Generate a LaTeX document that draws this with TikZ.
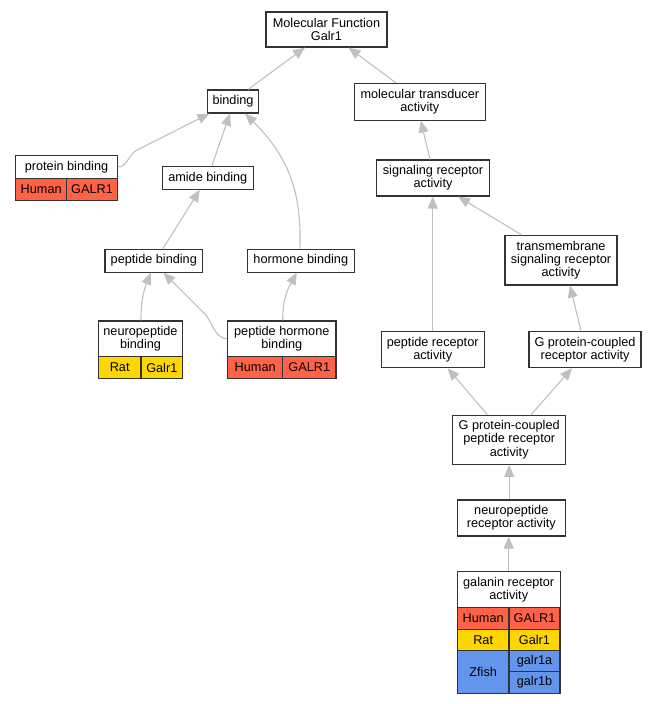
\documentclass[tikz,border=0pt]{standalone}
\usepackage{fontspec}
\setmainfont{Liberation Sans}
\usetikzlibrary{arrows.meta}
\definecolor{humanc}{HTML}{FF6347}
\definecolor{ratc}{HTML}{FFD700}
\definecolor{fishc}{HTML}{6495ED}
\definecolor{edgec}{HTML}{C0C0C0}
\newcommand\fsz{\fontsize{12.7}{13.2}\selectfont}
\tikzset{
  gobox/.style={draw=black!80, line width=1.1pt, fill=white, inner sep=0pt, align=center, font=\fsz},
  cell/.style={draw=black!80, line width=1.1pt, inner sep=0pt, align=center, font=\fsz},
  edge/.style={draw=edgec, line width=1.1pt, -{Triangle[length=12pt,width=10pt]}},
}
\begin{document}
\begin{tikzpicture}[x=1pt,y=-1pt]
\useasboundingbox (0,0) rectangle (657,704);
% plain boxes
\node[gobox, minimum width=121pt, minimum height=35pt] (mf) at (326.5,29.5) {Molecular Function\\Galr1};
\node[gobox, minimum width=50.6pt, minimum height=23pt] (bind) at (233,101.5) {binding};
\node[gobox, minimum width=131pt, minimum height=36.7pt] (mta) at (419.8,101.7) {molecular transducer\\activity};
\node[gobox, minimum width=91pt, minimum height=22.6pt] (amide) at (207.8,178) {amide binding};
\node[gobox, minimum width=112.6pt, minimum height=36pt] (sra) at (433,178) {signaling receptor\\activity};
\node[gobox, minimum width=97.7pt, minimum height=22.7pt] (pepb) at (153.8,260.7) {peptide binding};
\node[gobox, minimum width=107pt, minimum height=22.7pt] (hb) at (300.8,260.7) {hormone binding};
\node[gobox, minimum width=112pt, minimum height=49.3pt] (tsra) at (561,260.3) {transmembrane\\signaling receptor\\activity};
\node[gobox, minimum width=103.3pt, minimum height=36pt] (pra) at (432.7,349.7) {peptide receptor\\activity};
\node[gobox, minimum width=112pt, minimum height=36pt] (gpcr) at (585,349.7) {G protein-coupled\\receptor activity};
\node[gobox, minimum width=113pt, minimum height=49.3pt] (gpcpr) at (509.2,439.7) {G protein-coupled\\peptide receptor\\activity};
\node[gobox, minimum width=108pt, minimum height=36pt] (npra) at (511.3,518) {neuropeptide\\receptor activity};
% protein binding with table
\node[gobox, minimum width=101.6pt, minimum height=23pt] (pb) at (66.5,166.8) {protein binding};
\node[cell, fill=humanc, minimum width=51pt, minimum height=21.7pt] (pbH) at (41.2,189.2) {Human};
\node[cell, fill=humanc, minimum width=50.6pt, minimum height=21.7pt] (pbG) at (92,189.2) {GALR1};
% neuropeptide binding
\node[gobox, minimum width=84.4pt, minimum height=35.7pt] (npb) at (140.5,338.8) {neuropeptide\\binding};
\node[cell, fill=ratc, minimum width=42.7pt, minimum height=21.6pt] (npbR) at (119.7,367.5) {Rat};
\node[cell, fill=ratc, minimum width=41.7pt, minimum height=21.6pt] (npbG) at (161.8,367.5) {Galr1};
% peptide hormone binding
\node[gobox, minimum width=108.3pt, minimum height=35.7pt] (phb) at (281.8,338.8) {peptide hormone\\binding};
\node[cell, fill=humanc, minimum width=55pt, minimum height=21.6pt] (phbH) at (255.2,367.5) {Human};
\node[cell, fill=humanc, minimum width=53.3pt, minimum height=21.6pt] (phbG) at (309.3,367.5) {GALR1};
% galanin receptor activity
\node[gobox, minimum width=102.7pt, minimum height=36pt] (gra) at (508.7,589.7) {galanin receptor\\activity};
\node[cell, fill=humanc, minimum width=51.7pt, minimum height=21.6pt] (graH) at (483.2,618.5) {Human};
\node[cell, fill=humanc, minimum width=51pt, minimum height=21.6pt] (graHG) at (534.5,618.5) {GALR1};
\node[cell, fill=ratc, minimum width=51.7pt, minimum height=21.4pt] (graR) at (483.2,640) {Rat};
\node[cell, fill=ratc, minimum width=51pt, minimum height=21.4pt] (graRG) at (534.5,640) {Galr1};
\node[cell, fill=fishc, minimum width=51.7pt, minimum height=42.6pt] (graZ) at (483.2,672) {Zfish};
\node[cell, fill=fishc, minimum width=51pt, minimum height=21pt] (graZa) at (534.5,661.2) {galr1a};
\node[cell, fill=fishc, minimum width=51pt, minimum height=21.6pt] (graZb) at (534.5,682.5) {galr1b};
% edges
\draw[edge] ([xshift=15pt]bind.north) -- ([xshift=-21.5pt]mf.south);
\draw[edge] ([xshift=-24pt]mta.north) -- ([xshift=22pt]mf.south);
\draw[edge] (pb.east) .. controls (128,166.8) and (127,156) .. (137,150) -- ([xshift=2.3pt]bind.south west);
\draw[edge] ([xshift=4pt]amide.north) -- ([xshift=-3pt]bind.south);
\draw[edge] ([xshift=-1pt]hb.north) .. controls (302,195) and (290,158) .. ([xshift=12pt]bind.south);
\draw[edge] ([xshift=-3pt]sra.north) -- ([xshift=1pt]mta.south);
\draw[edge] ([xshift=9pt]pepb.north) -- ([xshift=-8pt]amide.south);
\draw[edge] ([xshift=0.5pt]npb.north) .. controls (141,300) and (144,290) .. ([xshift=-3pt]pepb.south);
\draw[edge] (phb.west) .. controls (216,338.8) and (213,325) .. (206,315) -- ([xshift=9.5pt]pepb.south);
\draw[edge] ([xshift=1pt]phb.north) .. controls (282,298) and (290,285) .. ([xshift=-4pt]hb.south);
\draw[edge] (pra.north) -- (pra.north |- sra.south);
\draw[edge] ([xshift=-39pt]tsra.north) -- ([xshift=25pt]sra.south);
\draw[edge] ([xshift=-4pt]gpcr.north) -- ([xshift=9pt]tsra.south);
\draw[edge] ([xshift=-22pt]gpcpr.north) -- ([xshift=15pt]pra.south);
\draw[edge] ([xshift=22pt]gpcpr.north) -- ([xshift=-13pt]gpcr.south);
\draw[edge] (gpcpr.south |- npra.north) -- (gpcpr.south);
\draw[edge] (gra.north) -- (gra.north |- npra.south);
\end{tikzpicture}
\end{document}
